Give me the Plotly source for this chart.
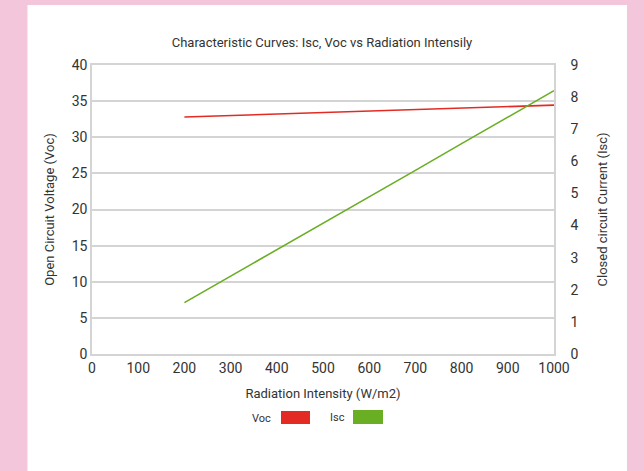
import plotly.graph_objects as go

# Data
radiation = [200, 300, 400, 500, 600, 700, 800, 900, 1000]
voc = [32.8, 33.0, 33.2, 33.4, 33.6, 33.85, 34.05, 34.25, 34.45]
isc = [1.6, 2.42, 3.25, 4.08, 4.9, 5.72, 6.55, 7.37, 8.2]
x_ticks = list(range(0, 1001, 100))
voc_ticks = list(range(0, 41, 5))
isc_ticks = list(range(0, 10))

W, H = 644, 471
L, R, T, B = 92, 554, 65, 354
pw, ph = R - L, B - T

def px(x):
    return (x - L) / pw

def py(y):
    return (B - y) / ph

FONT = "Roboto"
TXT = "#333333"
GRID = "#d4d4d4"
PINK = "#f4c6dc"

fig = go.Figure()
fig.add_trace(go.Scatter(x=radiation, y=voc, mode="lines", name="Voc",
                         line=dict(color="#e32b24", width=1.6), yaxis="y"))
fig.add_trace(go.Scatter(x=radiation, y=isc, mode="lines", name="Isc",
                         line=dict(color="#6aae24", width=1.6), yaxis="y2"))

shapes = [
    dict(type="rect", xref="paper", yref="paper", x0=px(27.5), x1=px(627), y0=py(480), y1=py(5),
         fillcolor="white", line=dict(width=0), layer="below"),
    dict(type="rect", xref="paper", yref="paper", x0=px(281), x1=px(310), y0=py(424), y1=py(411),
         fillcolor="#e32b24", line=dict(width=0)),
    dict(type="rect", xref="paper", yref="paper", x0=px(353), x1=px(383), y0=py(424), y1=py(410),
         fillcolor="#6aae24", line=dict(width=0)),
]

annotations = [
    dict(text="Voc", xref="paper", yref="paper", x=px(273), y=py(418), xanchor="right", yanchor="middle",
         showarrow=False, font=dict(family=FONT, size=11, color=TXT)),
    dict(text="Isc", xref="paper", yref="paper", x=px(347), y=py(417), xanchor="right", yanchor="middle",
         showarrow=False, font=dict(family=FONT, size=11, color=TXT)),
]

fig.update_layout(
    width=W, height=H,
    margin=dict(l=L, r=W - R, t=T, b=H - B),
    paper_bgcolor=PINK,
    plot_bgcolor="white",
    showlegend=False,
    font=dict(family=FONT, color=TXT, size=14),
    title=dict(text="Characteristic Curves: Isc, Voc vs Radiation Intensily",
               x=px(323), xanchor="center", y=1 - 42 / H, yanchor="middle",
               font=dict(family=FONT, size=13, color=TXT)),
    xaxis=dict(range=[0, 1000], tickvals=x_ticks, showgrid=False, zeroline=False,
               showline=True, linecolor=GRID, linewidth=1.5, mirror=True,
               ticks="", tickfont=dict(size=14, color=TXT),
               title=dict(text="Radiation Intensity (W/m2)", font=dict(size=13, color=TXT), standoff=14)),
    yaxis=dict(range=[0, 40], tickvals=voc_ticks, showgrid=True, gridcolor=GRID, gridwidth=1.5,
               zeroline=False, showline=True, linecolor=GRID, linewidth=1.5,
               ticks="", tickfont=dict(size=14, color=TXT),
               title=dict(text="Open Circuit Voltage (Voc)", font=dict(size=13, color=TXT), standoff=14)),
    yaxis2=dict(range=[0, 9], tickvals=isc_ticks, overlaying="y", side="right", showgrid=False,
                zeroline=False, showline=True, linecolor=GRID, linewidth=1.5,
                ticks="", tickfont=dict(size=14, color=TXT), ticklabelstandoff=12,
                title=dict(text="Closed circuit Current (Isc)", font=dict(size=13, color=TXT), standoff=20)),
    shapes=shapes,
    annotations=annotations,
)

fig.write_html(
    "out.html",
    config={"displayModeBar": False},
    post_script="document.body.style.margin='0';document.body.style.background='" + PINK + "';",
)
